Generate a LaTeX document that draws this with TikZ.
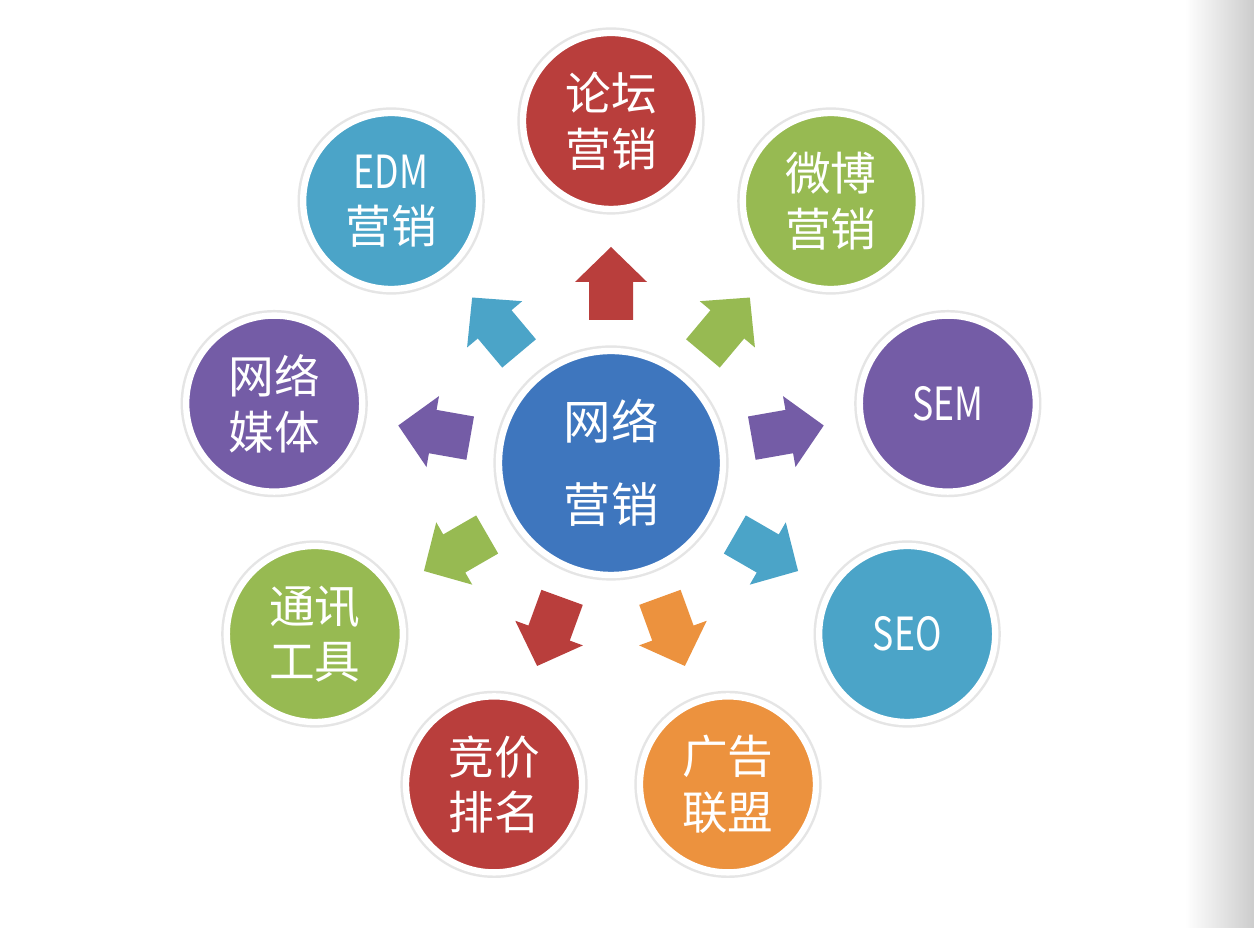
\documentclass[tikz,border=0pt]{standalone}
\usepackage{fontspec}
\usetikzlibrary{calc}
\newfontfamily\cjk{Noto Sans CJK SC}
\newfontfamily\cjknarrow[FakeStretch = 0.78]{Noto Sans CJK SC}
\definecolor{mkred}{RGB}{185,62,60}
\definecolor{mkgreen}{RGB}{151,186,82}
\definecolor{mkpurple}{RGB}{116,92,166}
\definecolor{mkcyan}{RGB}{75,164,200}
\definecolor{mkorange}{RGB}{236,146,62}
\definecolor{mkblue}{RGB}{62,118,190}
\tikzset{
    bubble/.style = {circle, draw = white, line width = 1.8pt, text = white, align = center, inner sep = 0pt,
        preaction = {draw = black!10, line width = 3.2pt}},
    leaf/.style = {bubble, minimum size = 1.76cm, font = \cjk\fontsize{13}{15.8}\selectfont},
    hub/.style = {bubble, fill = mkblue, minimum size = 2.24cm, font = \cjk\fontsize{13.5}{23.6}\selectfont}
}
\newcommand{\pusharrow}[2]{%
    \fill[#2] ($(hub)!1.43cm!(#1)!.22cm!90:(#1)$) -- ($(hub)!1.81cm!(#1)!.22cm!90:(#1)$)
        -- ($(hub)!1.81cm!(#1)!.36cm!90:(#1)$) -- ($(hub)!2.16cm!(#1)$)
        -- ($(hub)!1.81cm!(#1)!.36cm!-90:(#1)$) -- ($(hub)!1.81cm!(#1)!.22cm!-90:(#1)$)
        -- ($(hub)!1.43cm!(#1)!.22cm!-90:(#1)$) -- cycle;}
\begin{document}
\begin{tikzpicture}
    \useasboundingbox[fill = white] (-6.11, -4.65) rectangle (6.43, 4.63);
    \shade[left color = white, right color = black!20] (5.74, -4.65) rectangle (6.43, 4.63);
    \node[hub] (hub) at (0, 0) {网络\\营销};
    \foreach \a/\c/\name/\txt in {90/mkred/forum/{论坛\\营销}, 50/mkgreen/weibo/{微博\\营销}, 10/mkpurple/sem/{\cjknarrow SEM}, -30/mkcyan/seo/{\cjknarrow SEO}, -70/mkorange/union/{广告\\联盟}, -110/mkred/bid/{竞价\\排名}, -150/mkgreen/chat/{通讯\\工具}, 170/mkpurple/media/{网络\\媒体}, 130/mkcyan/edm/{{\cjknarrow EDM}\\营销}}{
        \node[leaf, fill = \c] (\name) at (\a:3.42) {\txt};
        \pusharrow{\name}{\c}
    }
\end{tikzpicture}
\end{document}
